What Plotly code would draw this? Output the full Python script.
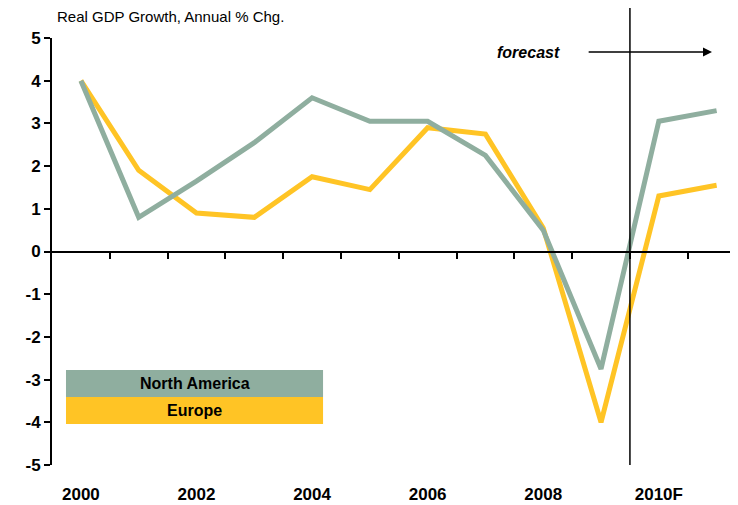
import plotly.graph_objects as go

# data
years = list(range(2000, 2012))
tick_labels = ["2000", "2002", "2004", "2006", "2008", "2010F"]
y_ticks = [5, 4, 3, 2, 1, 0, -1, -2, -3, -4, -5]
north_america = [4.0, 0.8, 1.65, 2.55, 3.6, 3.05, 3.05, 2.25, 0.5, -2.75, 3.05, 3.3]
europe = [4.0, 1.9, 0.9, 0.8, 1.75, 1.45, 2.9, 2.75, 0.55, -4.0, 1.3, 1.55]

na_color = "#8fae9f"
eu_color = "#ffc425"
font = "Liberation Sans, Arial, sans-serif"

idx = list(range(len(years)))

fig = go.Figure()
fig.add_trace(go.Scatter(x=idx, y=europe, mode="lines", name="Europe",
                         line=dict(color=eu_color, width=5)))
# drawn on the overlaying axis so it sits on top and that axis gets rendered
fig.add_trace(go.Scatter(x=idx, y=north_america, mode="lines", name="North America",
                         xaxis="x2", line=dict(color=na_color, width=5)))

# page body has an 8px margin, so the figure is 8px smaller than the window
xr = [-0.5, 11.37]
fig.update_layout(
    width=730, height=497,
    margin=dict(l=44, r=0, t=30, b=40, autoexpand=False),
    paper_bgcolor="white", plot_bgcolor="white",
    showlegend=False,
    font=dict(family=font, color="black"),
    xaxis=dict(
        range=xr, showgrid=False, zeroline=False, showline=False, automargin=False,
        tickvals=[idx[years.index(int(t[:4]))] for t in tick_labels],
        ticktext=tick_labels,
        ticks="outside", ticklen=14, tickcolor="rgba(0,0,0,0)",
        tickfont=dict(size=17, family=font, weight="bold"),
    ),
    # axis crossing at zero, with ticks between categories
    xaxis2=dict(
        overlaying="x", anchor="free", position=0.5, side="bottom", automargin=False,
        range=xr, showgrid=False, zeroline=False,
        showline=True, linecolor="black", linewidth=2,
        tickvals=[i + 0.5 for i in idx], showticklabels=False,
        ticks="outside", ticklen=6, tickwidth=2, tickcolor="black",
    ),
    yaxis=dict(
        range=[-5, 5], showgrid=False, zeroline=False, automargin=False,
        tickvals=y_ticks, ticktext=[str(v) for v in y_ticks],
        showline=True, linecolor="black", linewidth=2,
        ticks="outside", ticklen=6, tickwidth=2, tickcolor="black",
        tickfont=dict(size=17, family=font, weight="bold"),
    ),
)

# forecast divider
fig.add_shape(type="line", xref="x", yref="paper", x0=9.5, x1=9.5, y0=0, y1=1.077,
              line=dict(color="black", width=1.5))

# forecast arrow and label
fig.add_annotation(x=10.92, y=4.67, ax=8.76, ay=4.67, xref="x", yref="y",
                   axref="x", ayref="y", text="", showarrow=True,
                   arrowhead=2, arrowsize=1.2, arrowwidth=1.5, arrowcolor="black")
fig.add_annotation(x=8.32, y=4.67, xref="x", yref="y", text="<i>forecast</i>",
                   showarrow=False, xanchor="right",
                   font=dict(size=16, family=font, weight="bold"))

# title
fig.add_annotation(x=0.0, y=1.0, xref="paper", yref="paper", xshift=3, yshift=11,
                   text="Real GDP Growth, Annual % Chg.", showarrow=False,
                   xanchor="left", yanchor="bottom", font=dict(size=15, family=font))

# legend boxes
fig.add_shape(type="rect", xref="x", yref="y", x0=-0.258, x1=4.19, y0=-3.41, y1=-2.775,
              fillcolor=na_color, line=dict(width=0), layer="above")
fig.add_shape(type="rect", xref="x", yref="y", x0=-0.258, x1=4.19, y0=-4.04, y1=-3.41,
              fillcolor=eu_color, line=dict(width=0), layer="above")
fig.add_annotation(x=1.966, y=-3.09, xref="x", yref="y", text="North America",
                   showarrow=False, font=dict(size=16, family=font, weight="bold"))
fig.add_annotation(x=1.966, y=-3.72, xref="x", yref="y", text="Europe",
                   showarrow=False, font=dict(size=16, family=font, weight="bold"))

fig.write_html("out.html")
